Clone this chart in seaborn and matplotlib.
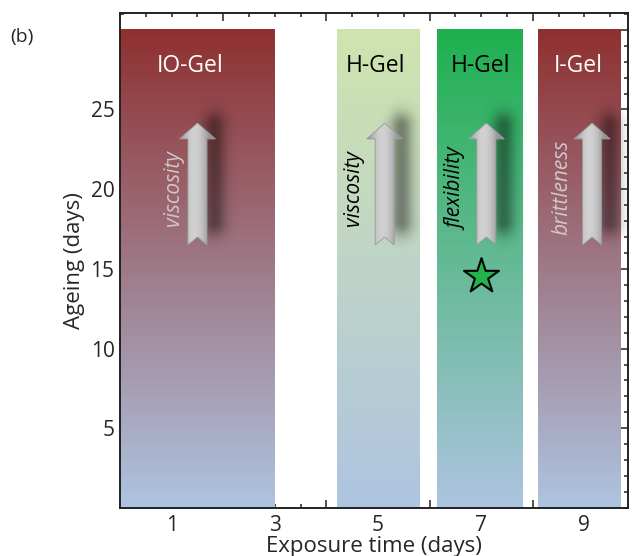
import numpy as np
import matplotlib
matplotlib.use("Agg")
import matplotlib.pyplot as plt
import seaborn as sns
from matplotlib.colors import to_rgb
from matplotlib.patches import Polygon
from matplotlib.ticker import MultipleLocator, FixedLocator, FuncFormatter, NullFormatter

# gel bands
bar_left = [0.0, 4.2, 6.15, 8.1]
bar_right = [3.0, 5.8, 7.8, 9.7]
bar_top = [30, 30, 30, 30]
top_colors = ["#8f3030", "#cfe4ae", "#1eb04e", "#8f3030"]
bottom_color = "#aec4e1"

gel_names = ["IO-Gel", "H-Gel", "H-Gel", "I-Gel"]
gel_x = [1.35, 4.95, 6.98, 8.88]
gel_y = [27.7, 27.7, 27.7, 27.7]
gel_colors = ["white", "black", "black", "white"]

prop_names = ["viscosity", "viscosity", "flexibility", "brittleness"]
prop_x = [1.04, 4.52, 6.53, 8.57]
prop_y = [20.1, 20.1, 20.0, 20.1]
prop_colors = ["#d0c8cc", "black", "black", "#d0c8cc"]

arrow_x = [1.5, 5.13, 7.1, 9.15]
arrow_y0 = [16.5, 16.5, 16.5, 16.5]
arrow_y1 = [24.15, 24.15, 24.15, 24.15]

star_x = [7.0]
star_y = [14.55]

sns.set_style("ticks")
plt.rcParams["font.family"] = ["Open Sans", "DejaVu Sans"]

fig = plt.figure(figsize=(6.32, 5.56), dpi=100)
ax = fig.add_axes([0.19, 0.0863, 0.804, 0.8903])

n = 256
for l, r, t, c in zip(bar_left, bar_right, bar_top, top_colors):
    frac = np.linspace(1, 0, n)[:, None, None]
    grad = frac * np.array(to_rgb(c)) + (1 - frac) * np.array(to_rgb(bottom_color))
    ax.imshow(grad, extent=(l, r, 0, t), aspect="auto", origin="upper",
              interpolation="bicubic", zorder=1)

# arrows with soft shadow
sw, hw, hl, notch = 0.185, 0.35, 1.0, 0.5
for x, y0, y1 in zip(arrow_x, arrow_y0, arrow_y1):
    gx = np.linspace(-0.8, 0.8, 80)
    gy = np.linspace(-6.0, 6.0, 160)
    X, Y = np.meshgrid(gx, gy)
    a = np.exp(-(X / 0.22) ** 2) * np.exp(-(np.clip(np.abs(Y) - 3.0, 0, None) / 0.9) ** 2)
    rgba = np.zeros(X.shape + (4,))
    rgba[..., 3] = 0.42 * a
    cy = (y0 + y1) / 2 + 0.6
    ax.imshow(rgba, extent=(x + 0.33 - 0.8, x + 0.33 + 0.8, cy - 6.0, cy + 6.0),
              aspect="auto", origin="lower", interpolation="bicubic", zorder=2)
    pts = [(x - sw, y0), (x, y0 + notch), (x + sw, y0), (x + sw, y1 - hl),
           (x + hw, y1 - hl), (x, y1), (x - hw, y1 - hl), (x - sw, y1 - hl)]
    poly = Polygon(pts, closed=True, facecolor="none", edgecolor="#9a9a9a",
                   lw=0.6, zorder=4)
    ax.add_patch(poly)
    u = np.linspace(0, 1, 60)
    shade = 0.58 + 0.24 * np.sin(np.pi * np.clip(u * 1.2, 0, 1))
    img = np.repeat(shade[None, :, None], 3, axis=2)
    im = ax.imshow(img, extent=(x - hw, x + hw, y0, y1), aspect="auto",
                   interpolation="bicubic", zorder=3)
    im.set_clip_path(poly)

for x, y, s, c in zip(gel_x, gel_y, gel_names, gel_colors):
    ax.text(x, y, s, color=c, fontsize=16.5, ha="center", va="center", zorder=5)

for x, y, s, c in zip(prop_x, prop_y, prop_names, prop_colors):
    ax.text(x, y, s, color=c, fontsize=15, style="italic", rotation=90,
            ha="center", va="center", zorder=5)

sns.scatterplot(x=star_x, y=star_y, marker="*", s=700, color="#22b34a",
                edgecolor="black", linewidth=1.5, ax=ax, zorder=6)

ax.set_xlim(0, 9.85)
ax.set_ylim(0, 31.05)

ax.xaxis.set_major_locator(FixedLocator([2, 4, 6, 8]))
ax.xaxis.set_major_formatter(NullFormatter())
ax.xaxis.set_minor_locator(MultipleLocator(0.5))
ax.xaxis.set_minor_formatter(FuncFormatter(
    lambda v, p: str(int(round(v))) if abs(v - round(v)) < 1e-6 and int(round(v)) % 2 == 1 else ""))

ax.yaxis.set_major_locator(FixedLocator([5, 10, 15, 20, 25, 30]))
ax.yaxis.set_major_formatter(FuncFormatter(lambda v, p: "" if v >= 30 else str(int(v))))
ax.yaxis.set_minor_locator(MultipleLocator(1))

ax.tick_params(which="both", direction="in", top=True, right=True,
               color="#222222", width=1.1, labelsize=15, zorder=7)
ax.tick_params(which="major", length=6)
ax.tick_params(which="minor", length=3, labelsize=15, pad=5)
ax.tick_params(axis="y", which="major", pad=4)

for sp in ax.spines.values():
    sp.set_linewidth(1.4)
    sp.set_color("#222222")
    sp.set_zorder(8)

ax.set_xlabel("Exposure time (days)", fontsize=16, labelpad=0)
ax.set_ylabel("Ageing (days)", fontsize=16, labelpad=4)

fig.text(22 / 632, 1 - 37 / 556, "(b)", fontsize=14, ha="center", va="center")

fig.savefig("out.png", dpi=100)
